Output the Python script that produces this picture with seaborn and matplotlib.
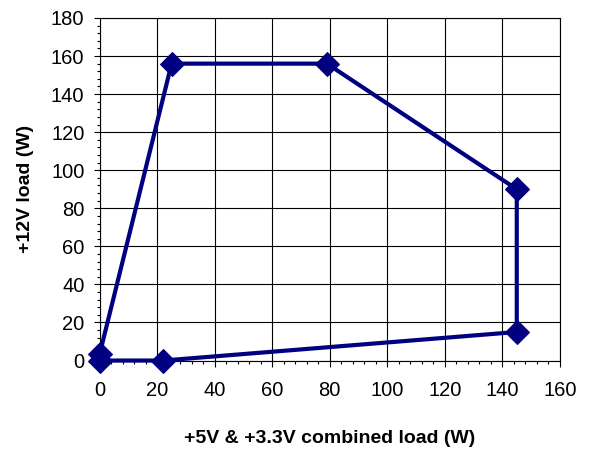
import matplotlib
matplotlib.use("Agg")
import matplotlib.pyplot as plt
import seaborn as sns
import pandas as pd
from matplotlib.ticker import MultipleLocator

combined_load = [0, 22, 145, 145, 79, 25, 0]
load_12v = [0, 0, 15, 90, 156, 156, 3.5]

df = pd.DataFrame({"x": combined_load, "y": load_12v})

sns.set_style("white")
plt.rcParams['font.family'] = ['Liberation Sans', 'DejaVu Sans']

fig = plt.figure(figsize=(5.9, 4.49), dpi=100)
ax = fig.add_axes([0.169, 0.197, 0.780, 0.763])

sns.lineplot(data=df, x="x", y="y", sort=False, estimator=None, ax=ax, color="#000080",
             linewidth=3.0, marker="D", markersize=12, markeredgecolor="#000080",
             markerfacecolor="#000080", zorder=3, clip_on=False)

ax.set_xlim(0, 160)
ax.set_ylim(0, 180)
ax.xaxis.set_major_locator(MultipleLocator(20))
ax.yaxis.set_major_locator(MultipleLocator(20))
ax.xaxis.set_minor_locator(MultipleLocator(4))
ax.yaxis.set_minor_locator(MultipleLocator(4))
ax.grid(True, which="major", color="black", linewidth=0.8)
ax.tick_params(axis="both", which="major", direction="out", length=4, width=0.8,
               labelsize=14.5, color="black", labelcolor="black", bottom=True, left=True)
ax.tick_params(axis="x", which="major", pad=11)
ax.tick_params(axis="y", which="major", pad=7)
ax.tick_params(axis="both", which="minor", direction="out", length=2.5, width=0.8,
               color="black", bottom=True, left=True)
for s in ax.spines.values():
    s.set_color("black")
    s.set_linewidth(0.8)

ax.set_xlabel("+5V & +3.3V combined load (W)", fontsize=14, fontweight="bold",
              labelpad=21, color="black")
ax.set_ylabel("+12V load (W)", fontsize=14, fontweight="bold", labelpad=12, color="black")

fig.savefig("out.png", dpi=100)
